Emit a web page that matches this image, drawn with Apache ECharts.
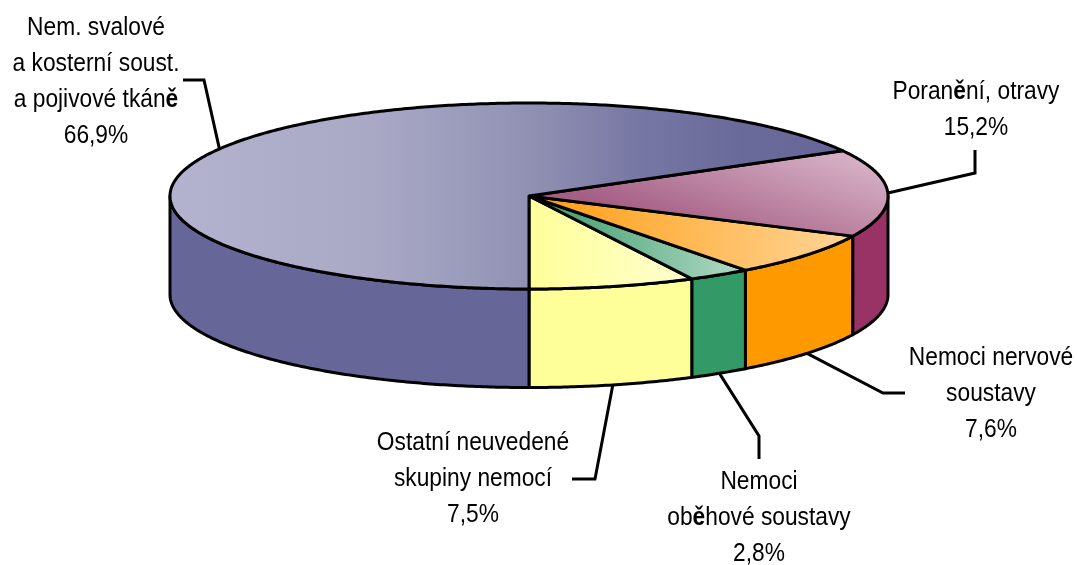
<!DOCTYPE html>
<html>
<head>
<meta charset="utf-8">
<title>Graf</title>
<style>
html, body { margin: 0; padding: 0; background: #fff; }
#container { width: 1077px; height: 565px; }
</style>
<script src="https://cdn.jsdelivr.net/npm/echarts@6/dist/echarts.min.js"></script>
</head>
<body>
<div id="container"></div>
<script>
// data, clockwise on screen from the front of the pie
var categories = ['Ostatní neuvedené\nskupiny nemocí', 'Nemoci\noběhové soustavy', 'Nemoci nervové\nsoustavy', 'Poranění, otravy', 'Nem. svalové\na kosterní soust.\na pojivové tkáně'];
var values = [7.5, 2.8, 7.6, 15.2, 66.9];

// colours of the side wall, and of the top gradient
var sideColors = ['#FFFF99', '#339966', '#FF9900', '#993366', '#666699'];
var topStops = [
	[[0, '#FFFF99'], [1, '#FFFFD0']],
	[[0, '#339966'], [1, '#B4DAC6']],
	[[0, '#FF9C10'], [1, '#FFD699']],
	[[0, '#D5AEC3'], [1, '#A55F85']],
	[[0, '#B3B3CF'], [0.3, '#A9A9C6'], [0.54, '#9090B3'], [0.69, '#7878A5'], [0.85, '#6A6A9A'], [1, '#666699']]
];
var topDirs = [
	[0, 0, 1, 0],
	[0, 0, 1, 0],
	[0, 0, 1, 0],
	[0.894, 0.138, 0.785, 1.425],
	[0, 0, 1, 0]
];

// pie geometry
var cx = 529, cy = 196, rx = 359, ry = 93, depth = 98.5;
var lineW = 3;
var fontName = '"Liberation Sans", sans-serif';
var fontSize = 26;
var fontSqueeze = 0.875; // the original uses a narrow face
var lineGap = 36;

// label place (centre x, middle y of first line) and leader elbows
var labelPos = [[473, 443], [759, 482], [991, 358], [976, 92], [96, 28]];
var leaderPts = [
	[[595, 479], [572, 479]],
	[[759, 436], [759, 459]],
	[[883, 393], [905, 393]],
	[[975, 173], [975, 150]],
	[[204, 80], [183, 80]]
];

var total = 0;
for(var i = 0; i < values.length; i++) {
	total += values[i];
}

// angle 0 = front of the pie, growing to the right and round the back
function ptAt(t, dy) {
	return [cx + rx * Math.sin(t), cy + ry * Math.cos(t) + (dy || 0)];
}

function arcPts(t0, t1, dy) {
	var pts = [];
	var n = Math.max(2, Math.ceil(Math.abs(t1 - t0) / 0.01));
	for(var k = 0; k <= n; k++) {
		pts.push(ptAt(t0 + (t1 - t0) * k / n, dy));
	}
	return pts;
}

function sidePoly(t0, t1) {
	return arcPts(t0, t1, 0).concat(arcPts(t1, t0, depth));
}

function startAngle(idx) {
	var sum = 0;
	for(var k = 0; k < idx; k++) {
		sum += values[k];
	}
	return sum / total * Math.PI * 2;
}

function polyEl(pts, fill) {
	return {
		type: 'polygon',
		shape: { points: pts },
		style: { fill: fill, stroke: '#000', lineWidth: lineW, lineJoin: 'round' }
	};
}

function textEl(str, x, y) {
	return {
		type: 'text',
		x: x,
		y: y,
		scaleX: fontSqueeze,
		style: {
			x: 0,
			y: 0,
			// ě falls back to a bold face in the original
			text: str.replace(/ě/g, '{b|ě}'),
			rich: { b: { fontFamily: fontName, fontSize: fontSize, fontWeight: 'bold', fill: '#000' } },
			fontFamily: fontName,
			fontSize: fontSize,
			fill: '#000',
			textAlign: 'center',
			textVerticalAlign: 'middle'
		}
	};
}

function renderSlice(params, api) {
	var idx = params.dataIndex;
	var t0 = startAngle(idx);
	var t1 = t0 + api.value(1) / total * Math.PI * 2;
	var kids = [];

	// leader line starts on the rim at the middle of the slice
	var tm = (t0 + t1) / 2;
	var anchor = ptAt(tm, Math.cos(tm) > 0 ? depth : 0);
	kids.push({
		type: 'polyline',
		shape: { points: [anchor].concat(leaderPts[idx]) },
		style: { fill: null, stroke: '#000', lineWidth: lineW, lineJoin: 'miter' }
	});

	// side wall, only the part facing the viewer
	var half = Math.PI / 2;
	if(t0 < half) {
		kids.push(polyEl(sidePoly(t0, Math.min(t1, half)), sideColors[idx]));
	}
	if(t1 > half * 3) {
		kids.push(polyEl(sidePoly(Math.max(t0, half * 3), t1), sideColors[idx]));
	}

	// top face
	var d = topDirs[idx];
	var stops = [];
	for(var s = 0; s < topStops[idx].length; s++) {
		stops.push({ offset: topStops[idx][s][0], color: topStops[idx][s][1] });
	}
	kids.push(polyEl([[cx, cy]].concat(arcPts(t0, t1, 0)), {
		type: 'linear',
		x: d[0],
		y: d[1],
		x2: d[2],
		y2: d[3],
		colorStops: stops
	}));

	// label with its percentage
	var lines = categories[idx].split('\n');
	lines.push(api.value(1).toFixed(1).replace('.', ',') + '%');
	for(var j = 0; j < lines.length; j++) {
		kids.push(textEl(lines[j], labelPos[idx][0], labelPos[idx][1] + j * lineGap));
	}

	return { type: 'group', children: kids };
}

var chartData = [];
for(var i = 0; i < values.length; i++) {
	chartData.push([i, values[i]]);
}

var myChart = echarts.init(document.getElementById('container'), null, { renderer: 'canvas' });
myChart.setOption({
	animation: false,
	backgroundColor: '#fff',
	series: [{
		type: 'custom',
		coordinateSystem: 'none',
		silent: true,
		renderItem: renderSlice,
		data: chartData
	}]
});
</script>
</body>
</html>
